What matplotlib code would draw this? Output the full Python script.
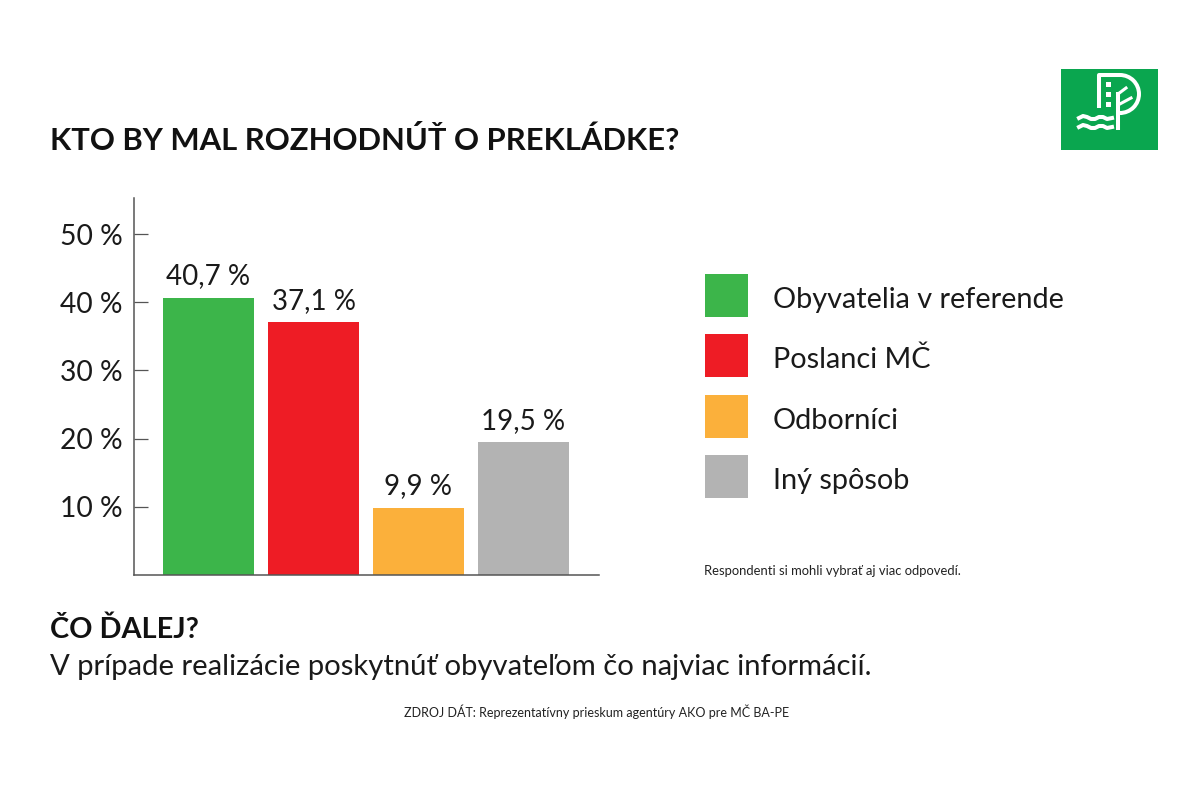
import matplotlib
matplotlib.use("Agg")
import matplotlib.pyplot as plt
from matplotlib.patches import Rectangle, Wedge
import numpy as np

categories = ["Obyvatelia v referende", "Poslanci MČ", "Odborníci", "Iný spôsob"]
values = [40.7, 37.1, 9.9, 19.5]
value_labels = ["40,7 %", "37,1 %", "9,9 %", "19,5 %"]
colors = ["#3cb54a", "#ee1c25", "#fbb03b", "#b3b3b3"]
ticks = [10, 20, 30, 40, 50]
tick_labels = ["10 %", "20 %", "30 %", "40 %", "50 %"]

title = "KTO BY MAL ROZHODNÚŤ O PREKLÁDKE?"
next_title = "ČO ĎALEJ?"
next_text = "V prípade realizácie poskytnúť obyvateľom čo najviac informácií."
note = "Respondenti si mohli vybrať aj viac odpovedí."
source = "ZDROJ DÁT: Reprezentatívny prieskum agentúry AKO pre MČ BA-PE"

plt.rcParams['font.family'] = ['Lato', 'DejaVu Sans']

fig = plt.figure(figsize=(12, 8), dpi=100)

# overlay in pixel coords for legend, texts and logo
bg = fig.add_axes([0, 0, 1, 1])
bg.set_xlim(0, 1200)
bg.set_ylim(800, 0)
bg.axis("off")

ax = fig.add_axes([134/1200, 225/800, 465/1200, 377/800])
ax.patch.set_alpha(0)
x = np.arange(len(values))
ax.bar(x, values, width=91/105, color=colors)
ax.set_xlim(-74.5/105, 390.5/105)
ax.set_ylim(0, 55.3)
ax.set_xticks([])
ax.set_yticks(ticks)
ax.set_yticklabels(tick_labels, fontsize=20.3, color="#1a1a1a")
ax.tick_params(axis="y", direction="in", length=10, width=0.9, color="#555555", pad=8)
for s in ["top", "right"]:
	ax.spines[s].set_visible(False)
for s in ["left", "bottom"]:
	ax.spines[s].set_color("#555555")
	ax.spines[s].set_linewidth(1.1)
for i in range(len(values)):
	ax.annotate(value_labels[i], (x[i], values[i]), xytext=(0, 6), textcoords="offset points",
		ha="center", va="bottom", fontsize=20, color="#1a1a1a")

# legend
legend_y = [274, 334, 395, 455]
for i in range(len(categories)):
	bg.add_patch(Rectangle((705, legend_y[i]), 43, 43, color=colors[i], lw=0))
	bg.text(773, legend_y[i] + 26, categories[i], fontsize=20.8, color="#1a1a1a", va="center", ha="left")

# texts
bg.text(50, 140, title, fontsize=22.3, fontweight="bold", color="#111111", va="center", ha="left")
bg.text(704, 571, note, fontsize=9.4, color="#222222", va="center", ha="left")
bg.text(50, 630, next_title, fontsize=20.8, fontweight="bold", color="#111111", va="center", ha="left")
bg.text(50, 667, next_text, fontsize=21.1, color="#1a1a1a", va="center", ha="left")
bg.text(597, 712, source, fontsize=9, color="#222222", va="center", ha="center")

# logo
green = "#0aa64f"
bg.add_patch(Rectangle((1061, 69), 97, 81, color=green, lw=0))
w = dict(color="white", lw=2.9, solid_capstyle="butt")
bg.plot([1099, 1099, 1120], [108, 75, 75], **w)
bg.plot([1120, 1120], [113, 113], **w)
bg.add_patch(Wedge((1120, 94), 21, -90, 90, width=4, color="white", lw=0))
bg.plot([1118, 1122], [113, 113], **w)
bg.plot([1118, 1118], [92, 130], **w)
bg.plot([1118, 1131], [105, 98], color="white", lw=2.2)
bg.plot([1118, 1126], [94, 88], color="white", lw=2.2)
for yy in [84, 94, 104]:
	bg.add_patch(Rectangle((1105.5, yy - 2.5), 5, 5, color="white", lw=0))
wave_x = [1079, 1083, 1087, 1091, 1095, 1099, 1103, 1107, 1112]
wave_y = [0, -2, -1, 1, 1, -1, -1, 1, 0]
for yy in [118, 127]:
	bg.plot(wave_x, [yy + v for v in wave_y], color="white", lw=2.9)

fig.savefig("out.png", dpi=100)
